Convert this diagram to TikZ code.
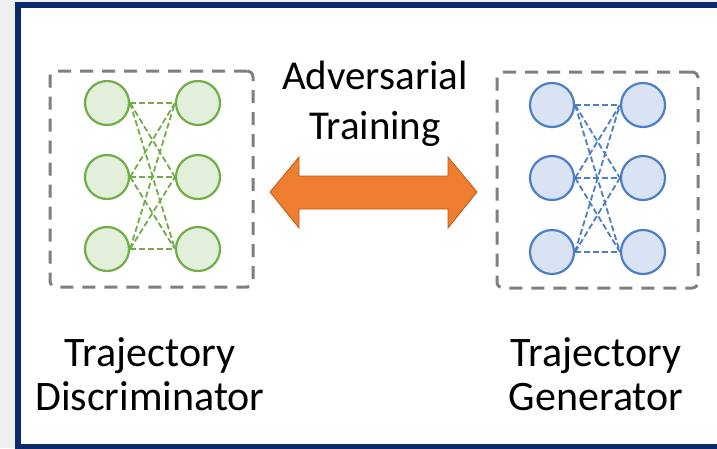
\documentclass[tikz,border=0pt]{standalone}
\usepackage{fontspec}
\setmainfont{Carlito}
\definecolor{navy}{HTML}{0B2A6B}
\definecolor{gstroke}{HTML}{70AD47}
\definecolor{gfill}{HTML}{E2EFDA}
\definecolor{bstroke}{HTML}{4A7EC8}
\definecolor{bfill}{HTML}{DAE3F3}
\definecolor{boxgray}{HTML}{7F7F7F}
\definecolor{orangef}{HTML}{ED7D31}
\definecolor{oranged}{HTML}{C55A11}
\definecolor{stripgray}{HTML}{EFEFEF}
\begin{document}
\begin{tikzpicture}[x=1pt,y=-1pt,
  neuron/.style={circle,line width=2.2pt,minimum size=44pt,inner sep=0pt},
  gneuron/.style={neuron,draw=gstroke,fill=gfill},
  bneuron/.style={neuron,draw=bstroke,fill=bfill},
  netbox/.style={draw=boxgray,line width=3pt,dash pattern=on 13pt off 9pt,rounded corners=6pt,inner sep=0pt},
  glink/.style={draw=gstroke,line width=1.8pt,dash pattern=on 6pt off 3pt},
  blink/.style={draw=bstroke,line width=1.8pt,dash pattern=on 6pt off 3pt},
  lbl/.style={align=center,inner sep=0pt,font=\fontsize{42}{44}\selectfont}
]
\useasboundingbox (0,0) rectangle (717,448);
\fill[stripgray] (0,0) rectangle (717,448);
\fill[white] (18,4.5) rectangle (725,446.5);
\draw[navy,line width=6pt] (725,4.5) -- (18,4.5) -- (18,446.5) -- (725,446.5);

% boxes
\node[netbox,minimum width=203pt,minimum height=216pt] (dbox) at (151.5,179) {};
\node[netbox,minimum width=201pt,minimum height=216pt] (gbox) at (597.5,180) {};

% discriminator neurons
\node[gneuron] (d1) at (107,103) {};
\node[gneuron] (d2) at (107,177) {};
\node[gneuron] (d3) at (107,249) {};
\node[gneuron] (e1) at (198,103) {};
\node[gneuron] (e2) at (198,177) {};
\node[gneuron] (e3) at (198,249) {};
\foreach \i in {1,2,3}{\foreach \j in {1,2,3}{\draw[glink] (d\i.east) -- (e\j.west);}}

% generator neurons
\node[bneuron] (g1) at (552,105) {};
\node[bneuron] (g2) at (552,178) {};
\node[bneuron] (g3) at (552,252) {};
\node[bneuron] (h1) at (643,105) {};
\node[bneuron] (h2) at (643,178) {};
\node[bneuron] (h3) at (643,252) {};
\foreach \i in {1,2,3}{\foreach \j in {1,2,3}{\draw[blink] (g\i.east) -- (h\j.west);}}

% double arrow
\draw[fill=orangef,draw=oranged,line width=0.8pt,line join=miter]
  (270,192) -- (299,157) -- (299,176) -- (448,176) -- (448,157) -- (477,192)
  -- (448,228) -- (448,209) -- (299,209) -- (299,228) -- cycle;

% labels
\node[align=center,inner sep=0pt,font=\fontsize{41}{50}\selectfont] (adv) at (375,104) {Adversarial\\Training};
\node[lbl] (dlbl) at (150,374) {Trajectory\\Discriminator};
\node[lbl] (glbl) at (596,374) {Trajectory\\Generator};
\end{tikzpicture}
\end{document}
